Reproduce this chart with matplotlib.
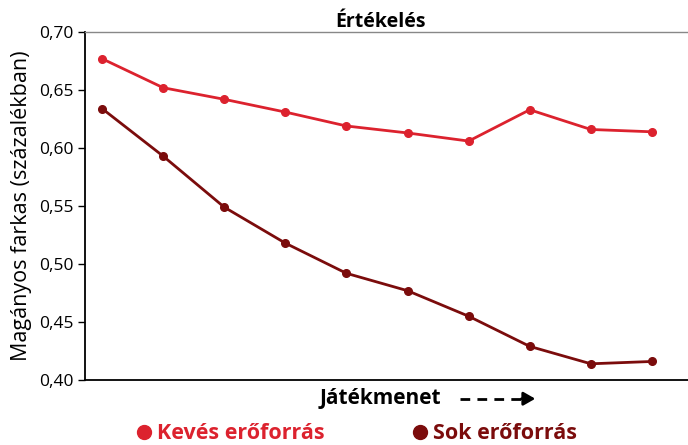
import numpy as np
import matplotlib.pyplot as plt
from matplotlib.lines import Line2D

plt.rcParams['font.family'] = ['Open Sans', 'DejaVu Sans']

# data
rounds = np.arange(1, 11)
keves = [0.677, 0.652, 0.642, 0.631, 0.619, 0.613, 0.606, 0.633, 0.616, 0.614]
sok = [0.634, 0.593, 0.549, 0.518, 0.492, 0.477, 0.455, 0.429, 0.414, 0.416]
yticks = [0.40, 0.45, 0.50, 0.55, 0.60, 0.65, 0.70]
series_names = ['Kevés erőforrás', 'Sok erőforrás']

red = '#dc222e'
dark = '#7b0c0c'

fig = plt.figure(figsize=(6.88, 4.45), dpi=100)
ax = fig.add_axes([0.1235, 0.146, 0.8765, 0.782])

ax.plot(rounds, keves, color=red, lw=2, marker='o', ms=5.5, label=series_names[0])
ax.plot(rounds, sok, color=dark, lw=2, marker='o', ms=5.5, label=series_names[1])

ax.set_xlim(0.72, 10.59)
ax.set_ylim(0.40, 0.70)
ax.set_yticks(yticks)
ax.set_yticklabels(['{:.2f}'.format(v).replace('.', ',') for v in yticks])
ax.set_xticks([])
ax.tick_params(axis='y', length=5, width=1, labelsize=12.5, pad=3)

ax.spines['right'].set_visible(False)
ax.spines['top'].set_color('#888888')
ax.spines['top'].set_linewidth(1)
ax.spines['left'].set_linewidth(1.3)
ax.spines['bottom'].set_linewidth(1.3)

ax.set_ylabel('Magányos farkas (százalékban)', fontsize=15.5, labelpad=5)
ax.set_title('Értékelés', fontsize=14, fontweight='bold', pad=2, x=0.49)

# x label with dashed arrow
fig.text(0.553, 0.104, 'Játékmenet', fontsize=15, fontweight='bold',
         ha='center', va='center')
fig.add_artist(Line2D([0.669, 0.762], [0.104, 0.104], transform=fig.transFigure,
                      color='black', lw=2, ls=(0, (3.5, 2.6))))
ax.annotate('', xy=(0.778, 0.104), xytext=(0.758, 0.104),
            xycoords='figure fraction', textcoords='figure fraction',
            arrowprops=dict(arrowstyle='-|>,head_length=0.7,head_width=0.4',
                            color='black', lw=2, shrinkA=0, shrinkB=0))

handles = [Line2D([], [], color=red, marker='o', lw=0, ms=10),
           Line2D([], [], color=dark, marker='o', lw=0, ms=10)]
leg = fig.legend(handles, series_names, loc='center', bbox_to_anchor=(0.52, 0.025),
                 ncol=2, frameon=False, handlelength=0.5, handletextpad=0.35,
                 columnspacing=4.2, prop={'size': 15.5, 'weight': 'bold'})
for t, c in zip(leg.get_texts(), [red, dark]):
    t.set_color(c)

fig.savefig('out.png', dpi=100)
